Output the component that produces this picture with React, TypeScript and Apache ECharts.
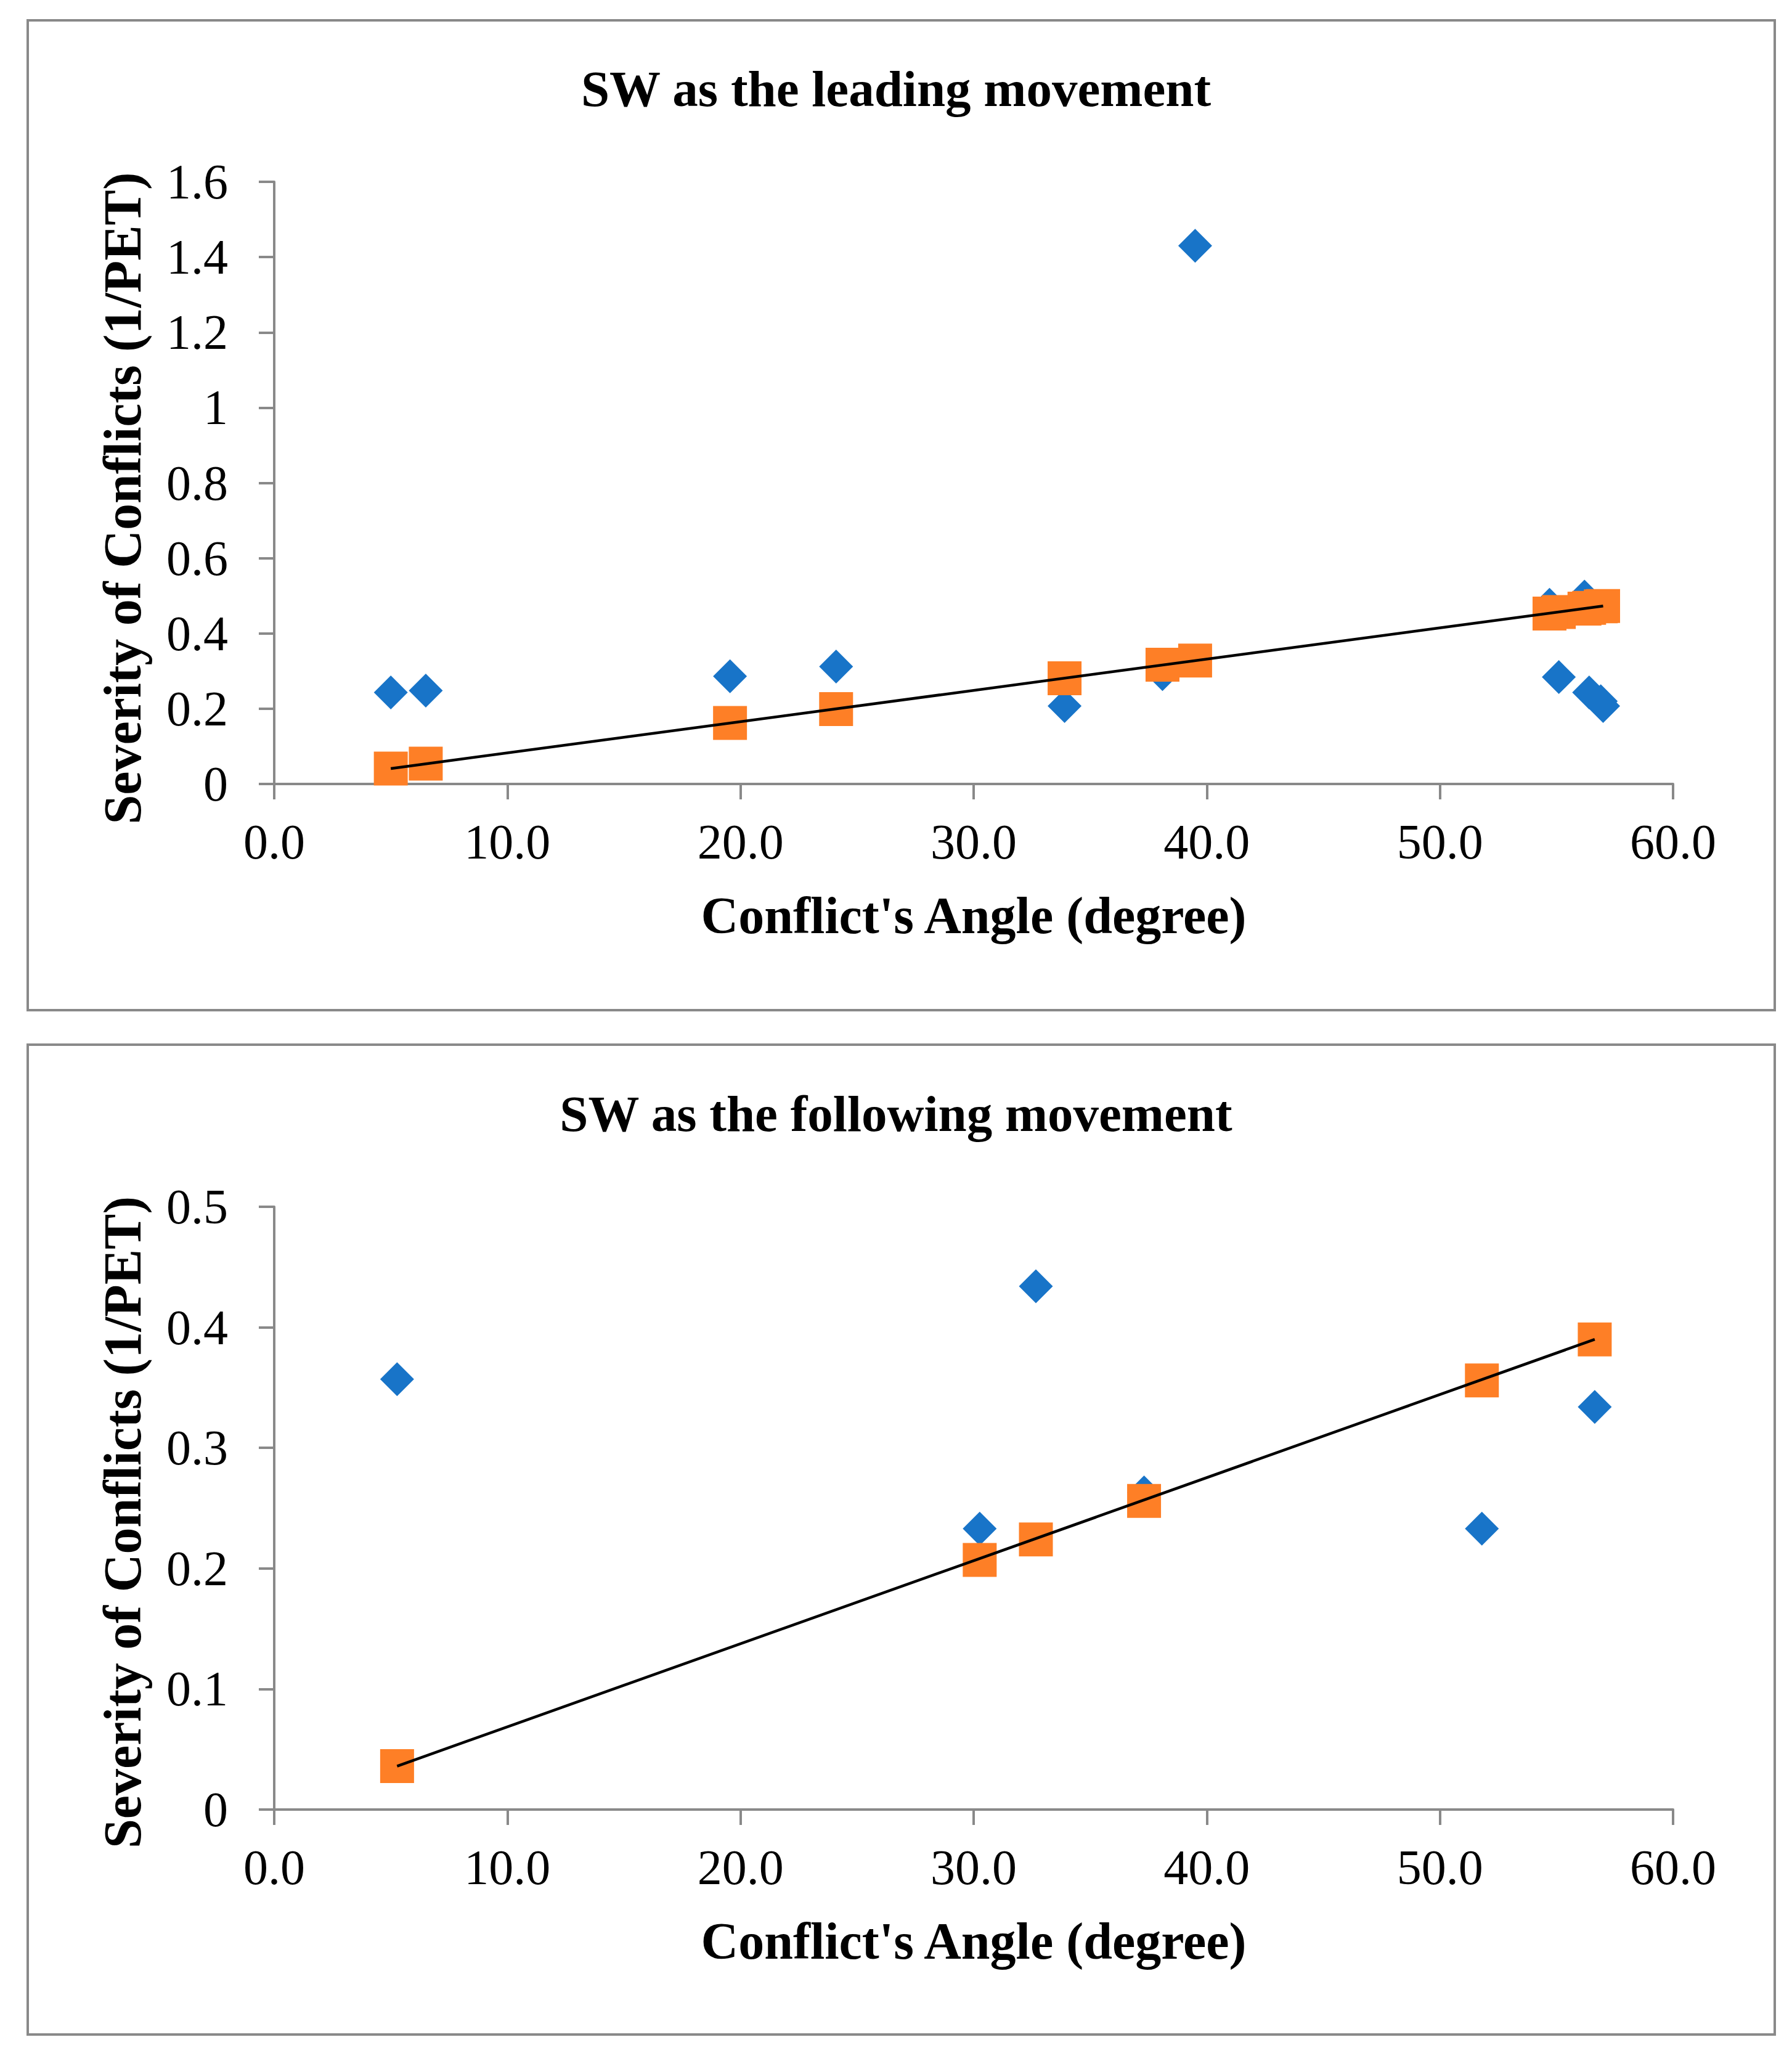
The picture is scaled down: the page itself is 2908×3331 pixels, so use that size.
import React, { useEffect, useRef } from "react";
import * as echarts from "echarts";

// ---- Data: top chart (SW as the leading movement) ----
const topAngles = [5.0, 6.5, 19.55, 24.1, 33.9, 38.1, 39.5, 54.7, 55.1, 56.2, 56.4, 56.9, 57.0];
const topObserved = [0.243, 0.248, 0.286, 0.312, 0.207, 0.292, 1.43, 0.476, 0.284, 0.498, 0.243, 0.22, 0.207];
const topPredicted = [0.041, 0.054, 0.162, 0.199, 0.281, 0.317, 0.328, 0.453, 0.457, 0.466, 0.468, 0.472, 0.473];
const topTrendX = [5.0, 57.0];
const topTrendY = [0.041, 0.473];

// ---- Data: bottom chart (SW as the following movement) ----
const botAngles = [5.27, 30.26, 32.67, 37.31, 51.8, 56.64];
const botObserved = [0.357, 0.233, 0.434, 0.263, 0.233, 0.334];
const botPredicted = [0.036, 0.207, 0.224, 0.256, 0.356, 0.39];
const botTrendX = [5.27, 56.64];
const botTrendY = [0.036, 0.39];

// ---- Text ----
const titles = ["SW as the leading movement", "SW as the following movement"];
const xName = "Conflict's Angle (degree)";
const yName = "Severity of Conflicts (1/PET)";
const xTicks = { min: 0, max: 60, interval: 10 };
const yTicksTop = { min: 0, max: 1.6, interval: 0.2 };
const yTicksBot = { min: 0, max: 0.5, interval: 0.1 };

const W = 2908;
const H = 3331;
const FONT = "'Liberation Serif', 'Times New Roman', serif";
const AXIS_GRAY = "#898989";
const BLUE = "#1874C8";
const ORANGE = "#FE7F26";
const OFFSET = 1663;

const zip = (xs: number[], ys: number[]) => xs.map((x, i) => [x, ys[i]]);

export default function App() {
  const ref = useRef<HTMLDivElement>(null);
  useEffect(() => {
    if (!ref.current) return;
    const chart = echarts.init(ref.current, undefined, { renderer: "svg" });

    const xAxisBase = (gridIndex: number) => ({
      type: "value",
      gridIndex,
      min: xTicks.min,
      max: xTicks.max,
      interval: xTicks.interval,
      name: xName,
      nameLocation: "middle",
      nameGap: 171,
      nameTextStyle: { fontFamily: FONT, fontWeight: "bold", fontSize: 84, color: "#000" },
      axisLine: { show: true, onZero: false, lineStyle: { color: AXIS_GRAY, width: 4 } },
      axisTick: { show: true, inside: false, length: 25, lineStyle: { color: AXIS_GRAY, width: 4 } },
      axisLabel: {
        margin: 54,
        fontFamily: FONT,
        fontSize: 80,
        color: "#000",
        formatter: (v: number) => v.toFixed(1),
      },
      splitLine: { show: false },
    });

    const yAxisBase = (gridIndex: number, t: { min: number; max: number; interval: number }, pad: number) => ({
      type: "value",
      gridIndex,
      min: t.min,
      max: t.max,
      interval: t.interval,
      name: yName,
      nameLocation: "middle",
      nameGap: 203,
      nameTextStyle: {
        fontFamily: FONT,
        fontWeight: "bold",
        fontSize: 86,
        color: "#000",
        padding: [0, pad, 0, 0],
      },
      axisLine: { show: true, onZero: false, lineStyle: { color: AXIS_GRAY, width: 4 } },
      axisTick: { show: true, inside: false, length: 25, lineStyle: { color: AXIS_GRAY, width: 4 } },
      axisLabel: { margin: 75, fontFamily: FONT, fontSize: 80, color: "#000" },
      splitLine: { show: false },
    });

    const scatter = (idx: number, data: number[][], symbol: string, color: string) => ({
      type: "scatter",
      xAxisIndex: idx,
      yAxisIndex: idx,
      data,
      symbol,
      symbolSize: 55,
      itemStyle: { color, opacity: 1 },
      emphasis: { disabled: true },
    });

    const trend = (idx: number, data: number[][]) => ({
      type: "line",
      xAxisIndex: idx,
      yAxisIndex: idx,
      data,
      symbol: "none",
      lineStyle: { color: "#000", width: 4.5 },
      emphasis: { disabled: true },
      z: 5,
    });

    chart.setOption({
      animation: false,
      backgroundColor: "#fff",
      title: titles.map((t, i) => ({
        text: t,
        left: "center",
        top: 102 + i * OFFSET,
        padding: 0,
        textStyle: { fontFamily: FONT, fontWeight: "bold", fontSize: 83, color: "#000" },
      })),
      graphic: [0, 1].map((i) => ({
        type: "rect",
        shape: { x: 45, y: 33 + i * (1695 - 33), width: 2880 - 45, height: 1639 - 33 },
        style: { fill: "none", stroke: AXIS_GRAY, lineWidth: 4 },
        silent: true,
        z: -1,
      })),
      grid: [
        { left: 445, top: 295, width: 2270, height: 977 },
        { left: 445, top: 295 + OFFSET, width: 2270, height: 978 },
      ],
      xAxis: [xAxisBase(0), xAxisBase(1)],
      yAxis: [yAxisBase(0, yTicksTop, 50), yAxisBase(1, yTicksBot, 46)],
      series: [
        scatter(0, zip(topAngles, topObserved), "diamond", BLUE),
        scatter(0, zip(topAngles, topPredicted), "rect", ORANGE),
        trend(0, zip(topTrendX, topTrendY)),
        scatter(1, zip(botAngles, botObserved), "diamond", BLUE),
        scatter(1, zip(botAngles, botPredicted), "rect", ORANGE),
        trend(1, zip(botTrendX, botTrendY)),
      ],
    });

    return () => chart.dispose();
  }, []);

  return (
    <div
      ref={ref}
      style={{ position: "absolute", left: 0, top: 0, width: W, height: H, background: "#fff" }}
    />
  );
}
